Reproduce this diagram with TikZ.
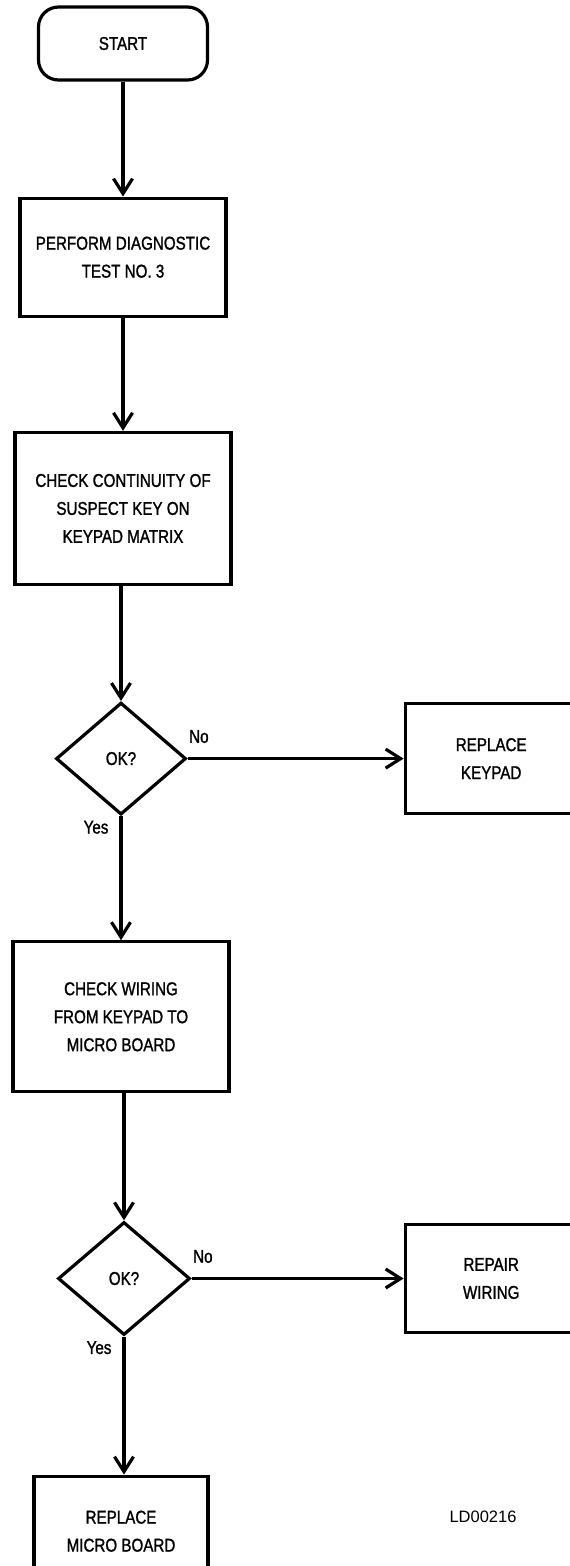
\documentclass[tikz,border=0pt]{standalone}
\usepackage{fontspec}
\setmainfont{Liberation Sans}
\newfontfamily\chartfont[FakeStretch=0.82,FakeBold=1.3]{Liberation Sans}
\usetikzlibrary{arrows.meta,positioning,shapes.geometric}

\begin{document}
\begin{tikzpicture}[>={Straight Barb[length=15pt,width=19pt]},line width=3.2pt,
    font=\chartfont\fontsize{18.5}{28}\selectfont,
    terminal/.style={draw,rounded corners=20pt,minimum width=169pt,minimum height=73pt,inner sep=0pt},
    block/.style={draw,align=center,inner sep=0pt},
    decision/.style={draw,diamond,minimum width=130pt,minimum height=112pt,inner sep=0pt}]
  \useasboundingbox (0,0) rectangle (570pt,-1566pt);

  \node[terminal]  (start)  at (123pt,-43.5pt)  {START};
  \node[block, minimum width=206pt, minimum height=118pt] (test)   [below=115pt of start]  {PERFORM DIAGNOSTIC\\TEST NO. 3};
  \node[block, minimum width=216pt, minimum height=152pt] (cont)   [below=113pt of test]   {CHECK CONTINUITY OF\\SUSPECT KEY ON\\KEYPAD MATRIX};
  \node[decision]  (okkey)  [below=115pt of cont, xshift=-2pt]  {OK?};
  \node[block, minimum width=172pt, minimum height=110pt] (keypad) [right=216pt of okkey]  {REPLACE\\KEYPAD};
  \node[block, minimum width=216pt, minimum height=150pt] (wirchk) [below=124pt of okkey]  {CHECK WIRING\\FROM KEYPAD TO\\MICRO BOARD};
  \node[decision, minimum width=132pt, minimum height=113pt]  (okwire) [below=127pt of wirchk, xshift=3pt]  {OK?};
  \node[block, minimum width=172pt, minimum height=108pt] (repair) [right=212pt of okwire] {REPAIR\\WIRING};
  \node[block, minimum width=174pt, minimum height=110pt] (micro)  [below=138pt of okwire, xshift=-3pt] {REPLACE\\MICRO BOARD};
%  drawing number
  \node (ref) at (483pt,-1517pt) {\normalfont\fontsize{16.5}{20}\selectfont LD00216};

  \path[->]  (start)  edge  (test);
  \path[->]  (test)   edge  (cont);
  \path[->]  (cont.south -| okkey.north)  edge  (okkey.north);
  \path[->]  (okkey.east) edge node[at start,anchor=south west,inner sep=0pt,yshift=14pt] {No} (keypad.west);
  \path[->]  (okkey.south) edge node[at start,anchor=north east,inner sep=0pt,xshift=-11pt,yshift=-3pt] {Yes} (wirchk.north -| okkey.south);
  \path[->]  (wirchk.south -| okwire.north) edge (okwire.north);
  \path[->]  (okwire.east) edge node[at start,anchor=south west,inner sep=0pt,yshift=14pt] {No} (repair.west);
  \path[->]  (okwire.south) edge node[at start,anchor=north east,inner sep=0pt,xshift=-11pt,yshift=-3pt] {Yes} (micro.north -| okwire.south);
\end{tikzpicture}
\end{document}
